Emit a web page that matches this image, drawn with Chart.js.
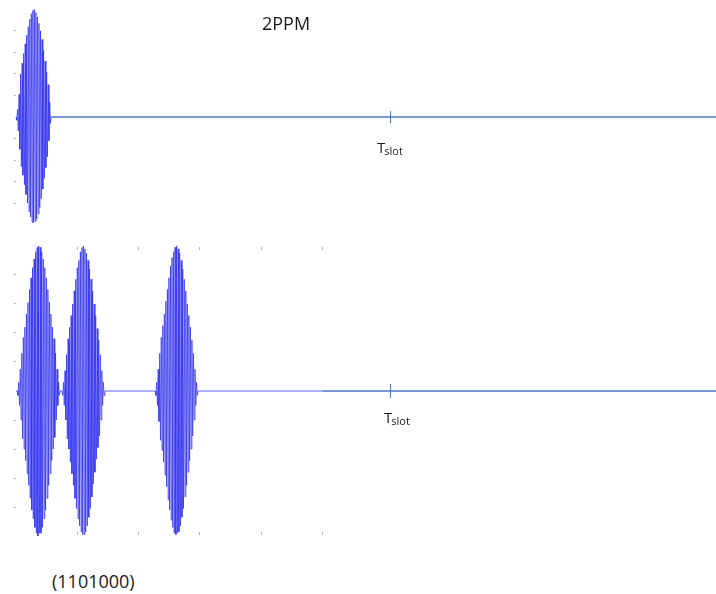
<!DOCTYPE html>
<html>
<head>
<meta charset="utf-8">
<script src="https://cdn.jsdelivr.net/npm/chart.js@4.4.0/dist/chart.umd.min.js"></script>
<style>
  body { margin: 0; background: #fff; }
  #page { position: relative; width: 716px; height: 594px; overflow: hidden; font-family: "Open Sans", sans-serif; color: #1a1a1a; }
  canvas { position: absolute; left: 0; }
  #topChart { top: 0; }
  #bottomChart { top: 236px; }
  .label { position: absolute; line-height: 1; white-space: nowrap; }
  .tslot .t { font-size: 15px; }
  .tslot .s { font-size: 11px; position: relative; top: 2px; margin-left: -1px; }
</style>
</head>
<body>
<div id="page">
  <canvas id="topChart" width="716" height="235"></canvas>
  <canvas id="bottomChart" width="716" height="300"></canvas>
  <div class="label" style="left:262px; top:14px; font-size:18px;">2PPM</div>
  <div class="label tslot" style="left:377px; top:139px;"><span class="t">T</span><span class="s">slot</span></div>
  <div class="label tslot" style="left:384px; top:409px;"><span class="t">T</span><span class="s">slot</span></div>
  <div class="label" style="left:52px; top:572px; font-size:18px;">(1101000)</div>
</div>
<script>
// time axis (one unit = one tick step)
const xTicks = [1, 2, 3, 4, 5];
const yTicks = [-0.8, -0.6, -0.4, -0.2, 0.2, 0.4, 0.6, 0.8];
const xEnd = 11.42;
const tSlot = 6.1;
const sampleStep = 0.0125;

// top trace: single pulse
const topPulseStarts = [0];
const topPulse = [0, -0.03, 0.07, -0.13, 0.21, -0.3, 0.4, -0.46, 0.5, -0.54, 0.59, -0.63,
  0.68, -0.72, 0.76, -0.8, 0.84, -0.88, 0.91, -0.93, 0.96, -0.98, 0.99, -0.98,
  1.0, -0.97, 0.97, -0.95, 0.93, -0.9, 0.87, -0.84, 0.8, -0.76, 0.72, -0.67,
  0.62, -0.57, 0.52, -0.47, 0.42, -0.37, 0.3, -0.22, 0.14, -0.06, 0];

// bottom trace: three pulses
const bottomPulseStarts = [0.02, 0.75, 2.27];
const bottomPulse1 = [0, -0.03, 0.06, -0.1, 0.15, -0.2, 0.26, -0.33, 0.37, -0.4, 0.44, -0.48,
  0.53, -0.57, 0.61, -0.65, 0.7, -0.74, 0.78, -0.82, 0.85, -0.88, 0.91, -0.94,
  0.96, -0.98, 0.99, -1.0, 1.0, -0.98, 0.99, -0.98, 0.96, -0.94, 0.91, -0.88,
  0.85, -0.82, 0.78, -0.74, 0.7, -0.65, 0.61, -0.57, 0.53, -0.48, 0.44, -0.4,
  0.36, -0.32, 0.26, -0.2, 0.15, -0.1, 0.06, -0.03, 0];
const bottomPulse2 = [0, -0.03, 0.06, -0.1, 0.14, -0.2, 0.25, -0.33, 0.36, -0.4, 0.44, -0.49,
  0.52, -0.57, 0.6, -0.65, 0.69, -0.74, 0.77, -0.81, 0.85, -0.88, 0.9, -0.93,
  0.96, -0.97, 0.99, -0.99, 1.0, -0.99, 0.98, -0.97, 0.95, -0.93, 0.9, -0.87,
  0.84, -0.81, 0.77, -0.73, 0.69, -0.64, 0.6, -0.56, 0.52, -0.47, 0.43, -0.39,
  0.35, -0.31, 0.25, -0.2, 0.14, -0.1, 0.06, -0.03, 0];
const bottomPulse3 = [0, -0.03, 0.06, -0.1, 0.15, -0.21, 0.26, -0.34, 0.37, -0.41, 0.45, -0.49,
  0.53, -0.58, 0.62, -0.66, 0.7, -0.75, 0.78, -0.82, 0.86, -0.89, 0.92, -0.94,
  0.96, -0.98, 0.99, -0.99, 1.0, -0.98, 0.98, -0.97, 0.95, -0.93, 0.9, -0.87,
  0.84, -0.81, 0.77, -0.73, 0.69, -0.65, 0.6, -0.56, 0.52, -0.48, 0.44, -0.4,
  0.35, -0.31, 0.26, -0.2, 0.15, -0.1, 0.06, -0.03, 0];
const bottomWaveEnd = 5;

const waveColor = 'rgba(50, 50, 240, 0.75)';
const lineColor = '#4a78c8';
const tickColor = '#b5b5b5';

function pulsePoints(starts, pulses) {
  let pts = [];
  starts.forEach((s, k) => {
    pulses[k].forEach((v, i) => pts.push({ x: s + i * sampleStep, y: v }));
  });
  return pts;
}

const topWave = pulsePoints(topPulseStarts, [topPulse]);
const topTailStart = topWave[topWave.length - 1].x;
const bottomWave = pulsePoints(bottomPulseStarts, [bottomPulse1, bottomPulse2, bottomPulse3]);
bottomWave.unshift({ x: 0, y: 0 });
bottomWave.push({ x: bottomWaveEnd, y: 0 });

// short vertical mark at Tslot on the baseline
function slotMark(half) {
  return {
    id: 'slotMark',
    afterDatasetsDraw(chart) {
      const ctx = chart.ctx;
      const x = chart.scales.x.getPixelForValue(tSlot);
      const y = chart.scales.y.getPixelForValue(0);
      ctx.save();
      ctx.strokeStyle = lineColor;
      ctx.lineWidth = 1;
      ctx.beginPath();
      ctx.moveTo(Math.round(x) + 0.5, y - half);
      ctx.lineTo(Math.round(x) + 0.5, y + half);
      ctx.stroke();
      ctx.restore();
    }
  };
}

function yAxis(min, max) {
  return {
    min: min, max: max,
    afterFit: s => { s.width = 16; },
    afterBuildTicks: s => { s.ticks = yTicks.map(v => ({ value: v })); },
    grid: { drawOnChartArea: false, tickLength: 2, color: tickColor },
    border: { display: false },
    ticks: { display: false }
  };
}

function xAxis(pos) {
  return {
    type: 'linear', position: pos, min: 0, max: xEnd,
    afterFit: s => { s.height = 3; },
    afterBuildTicks: s => { s.ticks = xTicks.map(v => ({ value: v })); },
    grid: { drawOnChartArea: false, tickLength: 3, color: tickColor },
    border: { display: false },
    ticks: { display: false }
  };
}

const common = {
  responsive: false,
  animation: false,
  plugins: { legend: { display: false }, tooltip: { enabled: false } },
  elements: { point: { radius: 0 }, line: { tension: 0 } }
};

new Chart(document.getElementById('topChart'), {
  type: 'line',
  data: {
    datasets: [
      { data: topWave, borderColor: waveColor, borderWidth: 1, clip: false },
      { data: [{ x: topTailStart, y: 0 }, { x: xEnd, y: 0 }], borderColor: lineColor, borderWidth: 1.5 }
    ]
  },
  options: Object.assign({}, common, {
    layout: { padding: { top: 4, bottom: 5, left: 0, right: 0 } },
    scales: {
      x: { type: 'linear', min: 0, max: xEnd, display: false },
      y: yAxis(-1.05, 1.05)
    }
  }),
  plugins: [slotMark(6)]
});

new Chart(document.getElementById('bottomChart'), {
  type: 'line',
  data: {
    datasets: [
      { data: bottomWave, borderColor: waveColor, borderWidth: 1, clip: false },
      { data: [{ x: bottomWaveEnd, y: 0 }, { x: xEnd, y: 0 }], borderColor: lineColor, borderWidth: 1.5 }
    ]
  },
  options: Object.assign({}, common, {
    layout: { padding: { top: 11, bottom: 1, left: 0, right: 0 } },
    scales: {
      x: xAxis('bottom'),
      x2: xAxis('top'),
      y: yAxis(-0.972, 0.972)
    }
  }),
  plugins: [slotMark(7)]
});
</script>
</body>
</html>
